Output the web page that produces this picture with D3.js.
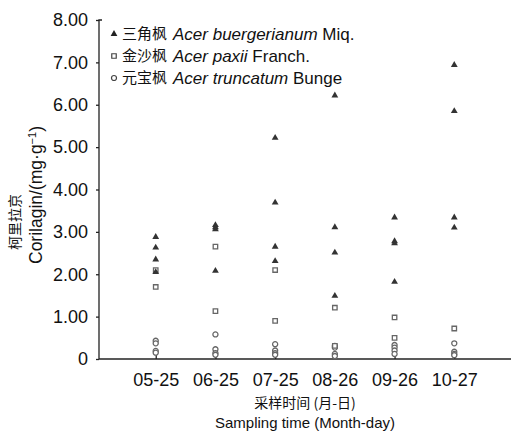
<!DOCTYPE html>
<html>
<head>
<meta charset="utf-8">
<script src="https://cdn.jsdelivr.net/npm/d3@7"></script>
<style>
  body { margin: 0; background: #fff; }
  text { font-family: "Liberation Sans", Arial, sans-serif; fill: #111; }
  .cjk { font-family: "Noto Sans CJK SC", sans-serif; }
</style>
</head>
<body>
<svg id="chart" width="512" height="432"></svg>
<script>
// sampling dates
var dates = ["05-25", "06-25", "07-25", "08-26", "09-26", "10-27"];
// corilagin content per date, one inner list per date (mg/g)
var sanjiaofeng = [
  [2.88, 2.63, 2.35, 2.05],
  [3.16, 3.11, 3.06, 2.08],
  [5.22, 3.69, 2.65, 2.31],
  [6.22, 3.11, 2.51, 1.49],
  [3.34, 2.78, 2.73, 1.82],
  [6.94, 5.85, 3.34, 3.10]
];
var jinshafeng = [
  [2.10, 1.70],
  [2.65, 1.13],
  [2.10, 0.90],
  [1.21, 0.31],
  [0.98, 0.50],
  [0.72]
];
var yuanbaofeng = [
  [0.43, 0.37, 0.19, 0.15],
  [0.58, 0.23, 0.14, 0.10],
  [0.35, 0.20, 0.14, 0.10],
  [0.31, 0.27, 0.12, 0.07],
  [0.33, 0.27, 0.20, 0.12],
  [0.37, 0.17, 0.12, 0.09]
];
var yTicks = [0, 1, 2, 3, 4, 5, 6, 7, 8];

var svg = d3.select("#chart");

var x = d3.scalePoint().domain(dates).range([99, 511]).padding(0.95);
var y = d3.scaleLinear().domain([0, 8]).range([359, 20]);

// axes
var yAxis = svg.append("g")
    .attr("transform", "translate(99,0)")
    .call(d3.axisLeft(y).tickValues(yTicks).tickSize(3).tickPadding(8)
      .tickFormat(function(d) { return d === 0 ? "0" : d3.format(".2f")(d); }));
yAxis.select(".domain").attr("d", "M3,20H0V359");
yAxis.selectAll("text").style("font-size", "18px").attr("fill", "#111");

var xAxis = svg.append("g")
    .attr("transform", "translate(0,359)")
    .call(d3.axisBottom(x).tickSize(-5).tickPadding(14));
xAxis.select(".domain").attr("d", "M99,0H511");
xAxis.selectAll("text").style("font-size", "18px").attr("fill", "#111");
svg.selectAll(".domain, .tick line").attr("stroke", "#222").attr("stroke-width", 1.3);

function flat(series) {
  var out = [];
  series.forEach(function(vals, i) {
    vals.forEach(function(v) { out.push({ date: dates[i], value: v }); });
  });
  return out;
}

var tri = d3.symbol().type(d3.symbolTriangle).size(20);
var sq = d3.symbol().type(d3.symbolSquare).size(20);
var circ = d3.symbol().type(d3.symbolCircle).size(20);

svg.append("g").selectAll("path")
    .data(flat(yuanbaofeng))
  .enter().append("path")
    .attr("d", circ)
    .attr("transform", function(d) { return "translate(" + x(d.date) + "," + y(d.value) + ")"; })
    .attr("fill", "#fff").attr("stroke", "#666").attr("stroke-width", 1.3);

svg.append("g").selectAll("path")
    .data(flat(jinshafeng))
  .enter().append("path")
    .attr("d", sq)
    .attr("transform", function(d) { return "translate(" + x(d.date) + "," + y(d.value) + ")"; })
    .attr("fill", "#fff").attr("stroke", "#666").attr("stroke-width", 1.3);

svg.append("g").selectAll("path")
    .data(flat(sanjiaofeng))
  .enter().append("path")
    .attr("d", tri)
    .attr("transform", function(d) { return "translate(" + x(d.date) + "," + y(d.value) + ")"; })
    .attr("fill", "#333");

// legend
var legend = [
  { sym: tri, fill: "#222", stroke: "none", cn: "三角枫", la: "Acer buergerianum", au: " Miq." },
  { sym: sq, fill: "#fff", stroke: "#444", cn: "金沙枫", la: "Acer paxii", au: " Franch." },
  { sym: circ, fill: "#fff", stroke: "#444", cn: "元宝枫", la: "Acer truncatum", au: " Bunge" }
];
var lg = svg.append("g").selectAll("g")
    .data(legend)
  .enter().append("g")
    .attr("transform", function(d, i) { return "translate(114," + (34 + i * 22) + ")"; });
lg.append("path")
    .attr("d", function(d) { return d.sym(); })
    .attr("fill", function(d) { return d.fill; })
    .attr("stroke", function(d) { return d.stroke; })
    .attr("stroke-width", 1.2);
lg.append("text").attr("class", "cjk")
    .attr("x", 8).attr("dy", "0.36em").attr("fill", "#333")
    .style("font-size", "15px").text(function(d) { return d.cn; });
var lt = lg.append("text").attr("x", 59).attr("dy", "0.35em").style("font-size", "17px");
lt.append("tspan").style("font-style", "italic").text(function(d) { return d.la; });
lt.append("tspan").text(function(d) { return d.au; });

// axis titles
svg.append("text").attr("class", "cjk")
    .attr("transform", "translate(20,222) rotate(-90)")
    .attr("text-anchor", "middle").attr("fill", "#333")
    .style("font-size", "14px").text("柯里拉京");
var yt = svg.append("text")
    .attr("transform", "translate(42,195) rotate(-90)")
    .attr("text-anchor", "middle").style("font-size", "17.5px");
yt.append("tspan").text("Corilagin/(mg·g");
yt.append("tspan").attr("dy", "-6").style("font-size", "11px").text("−1");
yt.append("tspan").attr("dy", "6").text(")");

svg.append("text").attr("class", "cjk")
    .attr("x", 305).attr("y", 408).attr("text-anchor", "middle").attr("fill", "#333")
    .style("font-size", "14px").text("采样时间 (月-日)");
svg.append("text")
    .attr("x", 305).attr("y", 428).attr("text-anchor", "middle")
    .style("font-size", "15px").text("Sampling time (Month-day)");
</script>
</body>
</html>
